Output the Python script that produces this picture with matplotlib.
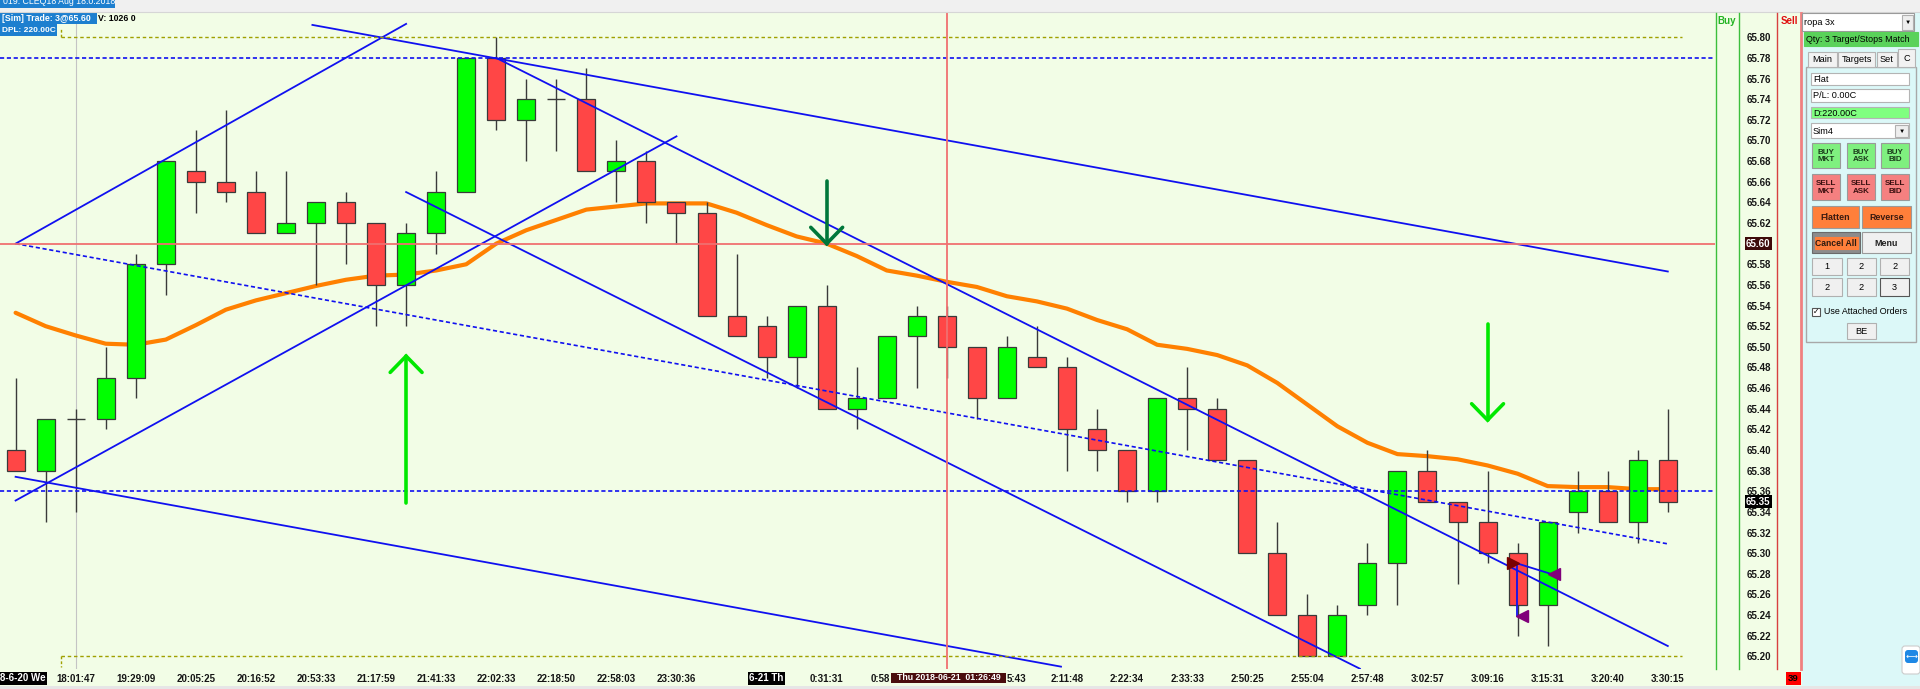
#!/usr/bin/env python3
"""
Recreate the CLEQ18 candlestick screenshot: bars, EMA, trend lines and order panel.
"""

import numpy as np
import matplotlib
matplotlib.use('Agg')
import matplotlib.pyplot as plt
from matplotlib.patches import Rectangle, FancyBboxPatch
from matplotlib.transforms import blended_transform_factory

W, H, DPI = 1920, 689, 100
BG = '#f2fde6'
PANEL = '#dcf8f8'
FONT = 'Liberation Sans'
plt.rcParams['font.family'] = ['Liberation Sans', 'DejaVu Sans']

# ---- bars (index 0 = leftmost bar) ----
opens = [65.40, 65.38, 65.43, 65.43, 65.47, 65.58, 65.67, 65.66, 65.65, 65.61,
         65.62, 65.64, 65.62, 65.56, 65.61, 65.65, 65.78, 65.72, 65.74, 65.74,
         65.67, 65.68, 65.64, 65.63, 65.53, 65.52, 65.49, 65.54, 65.44, 65.45,
         65.51, 65.53, 65.50, 65.45, 65.49, 65.48, 65.42, 65.40, 65.36, 65.45,
         65.44, 65.39, 65.30, 65.24, 65.20, 65.25, 65.29, 65.38, 65.35, 65.33,
         65.30, 65.25, 65.34, 65.36, 65.33, 65.39]
highs = [65.47, 65.43, 65.44, 65.50, 65.59, 65.68, 65.71, 65.73, 65.67, 65.67,
         65.64, 65.65, 65.62, 65.62, 65.67, 65.78, 65.80, 65.76, 65.76, 65.77,
         65.70, 65.69, 65.64, 65.64, 65.59, 65.53, 65.54, 65.56, 65.48, 65.51,
         65.54, 65.54, 65.50, 65.51, 65.52, 65.49, 65.44, 65.40, 65.45, 65.48,
         65.45, 65.39, 65.33, 65.26, 65.25, 65.31, 65.38, 65.40, 65.35, 65.38,
         65.31, 65.33, 65.38, 65.38, 65.40, 65.44]
lows = [65.38, 65.33, 65.34, 65.42, 65.45, 65.55, 65.63, 65.64, 65.61, 65.61,
        65.56, 65.58, 65.52, 65.52, 65.59, 65.65, 65.71, 65.68, 65.69, 65.67,
        65.64, 65.62, 65.60, 65.53, 65.51, 65.47, 65.46, 65.44, 65.42, 65.45,
        65.46, 65.47, 65.43, 65.45, 65.48, 65.38, 65.38, 65.35, 65.35, 65.40,
        65.39, 65.30, 65.24, 65.20, 65.20, 65.24, 65.25, 65.35, 65.27, 65.29,
        65.22, 65.21, 65.32, 65.33, 65.31, 65.34]
closes = [65.38, 65.43, 65.43, 65.47, 65.58, 65.68, 65.66, 65.65, 65.61, 65.62,
          65.64, 65.62, 65.56, 65.61, 65.65, 65.78, 65.72, 65.74, 65.74, 65.67,
          65.68, 65.64, 65.63, 65.53, 65.51, 65.49, 65.54, 65.44, 65.45, 65.51,
          65.53, 65.50, 65.45, 65.50, 65.48, 65.42, 65.40, 65.36, 65.45, 65.44,
          65.39, 65.30, 65.24, 65.20, 65.24, 65.29, 65.38, 65.35, 65.33, 65.30,
          65.25, 65.33, 65.36, 65.33, 65.39, 65.35]
ema = [65.533, 65.520, 65.511, 65.503, 65.502, 65.507, 65.521, 65.536, 65.545, 65.552,
       65.559, 65.565, 65.569, 65.570, 65.574, 65.580, 65.600, 65.613, 65.623, 65.633,
       65.636, 65.639, 65.639, 65.639, 65.630, 65.618, 65.607, 65.600, 65.588, 65.574,
       65.569, 65.563, 65.558, 65.549, 65.544, 65.537, 65.526, 65.517, 65.502, 65.498,
       65.492, 65.482, 65.465, 65.444, 65.423, 65.407, 65.396, 65.394, 65.391, 65.385,
       65.377, 65.365, 65.364, 65.364, 65.362, 65.362]

time_ticks = [2, 4, 6, 8, 10, 12, 14, 16, 18, 20, 22,
              27, 35, 37, 39, 41, 43, 45, 47, 49, 51, 53, 55]
time_labels = ['18:01:47', '19:29:09', '20:05:25', '20:16:52', '20:53:33', '21:17:59',
               '21:41:33', '22:02:33', '22:18:50', '22:58:03', '23:30:36',
               '0:31:31', '2:11:48', '2:22:34', '2:33:33', '2:50:25', '2:55:04',
               '2:57:48', '3:02:57', '3:09:16', '3:15:31', '3:20:40', '3:30:15']
# the two labels half hidden under the cursor time tag
hidden_left, hidden_right = '0:58', '5:43'
cursor_label = 'Thu 2018-06-21  01:26:49'
price_ticks = [65.20, 65.22, 65.24, 65.26, 65.28, 65.30, 65.32, 65.34, 65.36, 65.38,
               65.40, 65.42, 65.44, 65.46, 65.48, 65.50, 65.52, 65.54, 65.56, 65.58,
               65.60, 65.62, 65.64, 65.66, 65.68, 65.70, 65.72, 65.74, 65.76, 65.78, 65.80]

# drawn objects in bar index / price
trend_x0 = [0, 0, 9.88, 16.0, 13.0, 0]
trend_y0 = [65.600, 65.351, 65.812, 65.780, 65.650, 65.374]
trend_x1 = [13.0, 22.0, 55.0, 55.0, 44.75, 34.8]
trend_y1 = [65.813, 65.704, 65.573, 65.210, 65.188, 65.190]
dashed_x = [0, 55]
dashed_y = [65.600, 65.309]
blue_levels = [65.78, 65.36]
box_levels = [65.80, 65.20]
box_span = [1.51, 55.47]
red_level = 65.60
last_price = 65.35
cursor_bar = 31
session_bar = 2
date_bars = [0.25, 25]
date_labels = ['8-6-20 We', '6-21 Th']

arrow_bars = [27, 13, 49]
arrow_tails = [65.661, 65.349, 65.522]
arrow_tips = [65.600, 65.491, 65.429]
arrow_colors = ['#00773a', '#00e800', '#00e800']

trade_x = [49.85, 51.2, 50.15]
trade_y = [65.290, 65.280, 65.239]
trade_marks = ['>', '<', '<']
trade_colors = ['#7a0000', '#80007a', '#80007a']

# pixel layout of the screenshot
BAR0_PX, BAR_PX = 15.6, 30.04        # x of bar 0, bar spacing
P80_PX, PX_PER_UNIT = 37.3, 1031.7   # y of 65.80, pixels per 1.00
PLOT_L, PLOT_R, PLOT_T, PLOT_B = 0, 1715, 12.7, 669


def draw_candles(ax):
    x = np.arange(len(opens))
    o, c = np.array(opens), np.array(closes)
    up, down, flat = c > o, c < o, c == o
    ax.vlines(x, lows, highs, color='#3a3a3a', lw=1.0, zorder=3)
    ax.bar(x[up], (c - o)[up], bottom=o[up], width=0.6, color='#00ff00',
           edgecolor='#3a3a3a', lw=0.9, zorder=4)
    ax.bar(x[down], (o - c)[down], bottom=c[down], width=0.6, color='#ff4646',
           edgecolor='#3a3a3a', lw=0.9, zorder=4)
    ax.hlines(o[flat], x[flat] - 0.3, x[flat] + 0.3, color='#3a3a3a', lw=1.0, zorder=4)


def draw_overlays(ax):
    ax.plot(np.arange(len(ema)), ema, color='#ff8000', lw=3.0, zorder=2,
            solid_capstyle='round', solid_joinstyle='round')
    ax.axvline(session_bar, color='#c4c4c4', lw=0.8, zorder=1)

    for xa, ya, xb, yb in zip(trend_x0, trend_y0, trend_x1, trend_y1):
        ax.plot([xa, xb], [ya, yb], color='#1010f0', lw=1.3, zorder=5)
    ax.plot(dashed_x, dashed_y, color='#1010f0', lw=1.2, dashes=(2.5, 1.6), zorder=5)
    for lvl in blue_levels:
        ax.axhline(lvl, color='#1010f0', lw=1.2, dashes=(2.5, 1.6), zorder=5)
    for lvl in box_levels:
        ax.plot(box_span, [lvl, lvl], color='#a0a000', lw=1.0, dashes=(2.5, 2), zorder=5)
    # small bracket ticks on the left end of the box lines
    ax.plot([box_span[0]] * 2, [box_levels[0], box_levels[0] + 0.009],
            color='#a0a000', lw=1.0, dashes=(2, 1.5), zorder=5)
    ax.plot([box_span[0]] * 2, [box_levels[1], box_levels[1] - 0.010],
            color='#a0a000', lw=1.0, dashes=(2, 1.5), zorder=5)

    ax.axhline(red_level, color='#f07070', lw=1.3, zorder=6)
    ax.axvline(cursor_bar, color='#f07070', lw=1.3, zorder=6)

    arm_x, arm_y = 0.53, 0.0158
    for xb, tail, tip, col in zip(arrow_bars, arrow_tails, arrow_tips, arrow_colors):
        back = arm_y if tip < tail else -arm_y
        ax.plot([xb, xb], [tail, tip], color=col, lw=2.6, zorder=7, solid_capstyle='round')
        ax.plot([xb - arm_x, xb, xb + arm_x], [tip + back, tip, tip + back], color=col,
                lw=2.6, zorder=7, solid_capstyle='round', solid_joinstyle='miter')

    # trade marks and links
    ax.plot([trade_x[0] + 0.14, trade_x[1] - 0.1], [trade_y[0], trade_y[1]],
            color='#1010f0', lw=1.3, zorder=8)
    ax.plot([trade_x[0] + 0.14, trade_x[0] + 0.14], [trade_y[0], trade_y[2]],
            color='#1010f0', lw=1.3, zorder=8)
    for xm, ym, mk, col in zip(trade_x, trade_y, trade_marks, trade_colors):
        ax.plot(xm, ym, marker=mk, color=col, ms=9, mec=col, zorder=9, ls='none')


def button(ui, x0, y0, x1, y1, face, label='', size=6.2, weight='normal',
           color='black', edge='#9a9a9a', ha='center', lw=0.8):
    ui.add_patch(Rectangle((x0, y0), x1 - x0, y1 - y0, facecolor=face,
                           edgecolor=edge, lw=lw, zorder=2))
    if label:
        tx = (x0 + x1) / 2 if ha == 'center' else x0 + 2
        ui.text(tx, (y0 + y1) / 2 + 0.5, label, ha=ha, va='center', fontsize=size,
                fontweight=weight, color=color, linespacing=1.05, zorder=3)


def draw_ui(ui):
    ui.set_xlim(0, W)
    ui.set_ylim(H, 0)
    ui.axis('off')

    # top strip and tab
    ui.add_patch(Rectangle((0, 0), W, PLOT_T, facecolor='#f0f0f0', edgecolor='none'))
    ui.plot([0, W], [PLOT_T - 0.5, PLOT_T - 0.5], color='#d6d6d6', lw=0.8)
    ui.add_patch(Rectangle((0, 0), 115, 8.3, facecolor='#1d7fcf', edgecolor='none'))
    ui.text(3, 2.0, '019: CLEQ18 Aug 18.0.2018', color='white', fontsize=6.3,
            va='center', ha='left')

    # header boxes
    ui.add_patch(Rectangle((0, PLOT_T), 96.5, 11.3, facecolor='#1d7fcf', edgecolor='none'))
    ui.text(1.5, 18.6, '[Sim] Trade: 3@65.60', color='white', fontsize=6.3,
            fontweight='bold', va='center')
    ui.text(98, 18.6, 'V: 1026 0', color='black', fontsize=6.3,
            fontweight='bold', va='center')
    ui.add_patch(Rectangle((0, 24.0), 56.7, 11.6, facecolor='#1d7fcf', edgecolor='none'))
    ui.text(1.5, 30.0, 'DPL: 220.00C', color='white', fontsize=6.0,
            fontweight='bold', va='center')

    # buy / price / sell columns
    for xv, col, lw in [(1715.7, '#3cbf3c', 1.0), (1738.7, '#3cbf3c', 1.0),
                        (1777.3, '#d84040', 1.0), (1800.7, '#f08080', 2.0)]:
        ui.plot([xv, xv], [PLOT_T, PLOT_B], color=col, lw=lw)
    ui.text(1726.5, 20.5, 'Buy', color='#22b322', fontsize=7, fontweight='bold',
            ha='center', va='center')
    ui.text(1789, 20.5, 'Sell', color='#e01010', fontsize=7, fontweight='bold',
            ha='center', va='center')
    ui.add_patch(Rectangle((1785.5, 672), 15, 13, facecolor='#ff0000', edgecolor='none'))
    ui.text(1793, 678.8, '39', color='black', fontsize=6.8, fontweight='bold',
            ha='center', va='center')

    # bottom strip
    ui.add_patch(Rectangle((0, 686), W, 3, facecolor='#e6e6e6', edgecolor='none'))

    # cursor time tag on the time scale, with the labels it half hides
    ui.text(890, 678.5, hidden_left, color='#151515', fontsize=7, fontweight='bold',
            ha='right', va='center')
    ui.text(1007, 678.5, hidden_right, color='#151515', fontsize=7, fontweight='bold',
            ha='left', va='center')
    ui.add_patch(Rectangle((891, 672.5), 115, 10.5, facecolor='#4a0d0d', edgecolor='none', zorder=4))
    ui.text(948.5, 678, cursor_label, color='white', fontsize=6.3,
            fontweight='bold', ha='center', va='center', zorder=5)

    # order panel
    ui.add_patch(Rectangle((1802, PLOT_T), W - 1802, 686 - PLOT_T,
                           facecolor=PANEL, edgecolor='none'))
    button(ui, 1802.3, 13.3, 1914, 30.7, 'white', 'ropa 3x', size=6.6, ha='left')
    button(ui, 1902, 15, 1913, 29.5, '#eeeeee', '▼', size=4.5, edge='#b0b0b0')
    button(ui, 1804.3, 32.3, 1918.3, 45.7, '#5ad25a', 'Qty: 3 Target/Stops Match',
           size=6.4, ha='left', edge='#5ad25a')
    ui.add_patch(Rectangle((1805.7, 66.7), 110.3, 275.3, facecolor=PANEL,
                           edgecolor='#a8a8a8', lw=1.0))
    for x0, x1, lab in [(1808.3, 1836.7, 'Main'), (1838.3, 1875, 'Targets'),
                        (1876.7, 1897, 'Set'), (1898.3, 1915, 'C')]:
        top = 49.0 if lab == 'C' else 51.7
        button(ui, x0, top, x1, 66.7, '#f2f2f2', lab, size=6.6, edge='#b4b4b4')
    button(ui, 1811, 72.7, 1909.3, 85, 'white', 'Flat', size=6.6, ha='left', edge='#b4b4b4')
    button(ui, 1811, 89.3, 1909.3, 101.7, 'white', 'P/L: 0.00C', size=6.6, ha='left', edge='#b4b4b4')
    button(ui, 1811, 106.7, 1909.3, 118.3, '#80ff80', 'D:220.00C', size=6.6, ha='left', edge='#b4b4b4')
    button(ui, 1811, 123.3, 1909.3, 138.3, 'white', 'Sim4', size=6.6, ha='left', edge='#b4b4b4')
    button(ui, 1895, 125, 1908, 137, '#eeeeee', '▼', size=4.5, edge='#b0b0b0')

    cols = [(1812.3, 1840), (1846.7, 1875), (1880.7, 1909.3)]
    for (x0, x1), lab in zip(cols, ['BUY\nMKT', 'BUY\nASK', 'BUY\nBID']):
        button(ui, x0, 142.7, x1, 168.3, '#7ff07f', lab, size=5.8, weight='bold', color='#1a3a1a')
    for (x0, x1), lab in zip(cols, ['SELL\nMKT', 'SELL\nASK', 'SELL\nBID']):
        button(ui, x0, 174, x1, 200, '#f58080', lab, size=5.8, weight='bold', color='#3a1010')
    button(ui, 1812, 206, 1859.3, 228.3, '#ff7f3a', 'Flatten', size=6.4, weight='bold', color='#3a1a10')
    button(ui, 1862.3, 206, 1910.7, 228.3, '#ff7f3a', 'Reverse', size=6.4, weight='bold', color='#3a1a10')
    button(ui, 1812, 232, 1860, 253, '#8c8c8c', edge='#6a6a6a')
    button(ui, 1814.5, 236.5, 1857.5, 249, '#ff7f3a', 'Cancel All', size=6.2,
           weight='bold', color='#2a1a10', edge='#ff7f3a')
    button(ui, 1862.3, 232, 1910.7, 253, '#f0f0f0', 'Menu', size=6.4, weight='bold', color='#222222')
    nums = ['1', '2', '2', '2', '2', '3']
    for k, lab in enumerate(nums):
        x0, x1 = [(1812.3, 1841.7), (1846.7, 1876), (1880, 1909.3)][k % 3]
        y0, y1 = [(257.7, 275), (278.3, 296)][k // 3]
        edge = '#555555' if k == 5 else '#b0b0b0'
        button(ui, x0, y0, x1, y1, '#f0f0f0', lab, size=6.6, edge=edge)
    button(ui, 1811.7, 307.5, 1819.5, 315.5, 'white', '✓', size=5.5, edge='#555555')
    ui.text(1824, 312, 'Use Attached Orders', fontsize=6.4, va='center', ha='left')
    button(ui, 1846.7, 322.7, 1876, 339.3, '#f0f0f0', 'BE', size=6.6, edge='#b0b0b0')

    # remote-control badge in the corner
    ui.add_patch(FancyBboxPatch((1902, 646), 18, 28, boxstyle='round,pad=0,rounding_size=3',
                                facecolor='white', edgecolor='#cccccc', lw=0.8))
    ui.add_patch(FancyBboxPatch((1905, 650), 13, 13, boxstyle='round,pad=0,rounding_size=3',
                                facecolor='#1e88e5', edgecolor='none'))
    ui.text(1911.5, 656.5, '⟷', color='white', fontsize=6, ha='center', va='center',
            family='DejaVu Sans')


def main():
    fig = plt.figure(figsize=(W / DPI, H / DPI), dpi=DPI, facecolor=BG)
    ax = fig.add_axes([PLOT_L / W, (H - PLOT_B) / H, (PLOT_R - PLOT_L) / W,
                       (PLOT_B - PLOT_T) / H])
    ax.set_facecolor(BG)
    for sp in ax.spines.values():
        sp.set_visible(False)

    ax.set_xlim((PLOT_L - BAR0_PX) / BAR_PX, (PLOT_R - BAR0_PX) / BAR_PX)
    ax.set_ylim(65.80 - (PLOT_B - P80_PX) / PX_PER_UNIT,
                65.80 + (P80_PX - PLOT_T) / PX_PER_UNIT)

    draw_candles(ax)
    draw_overlays(ax)

    ax.set_xticks(time_ticks)
    ax.set_xticklabels(time_labels, fontsize=7, fontweight='bold', color='#151515')
    ax.tick_params(axis='x', length=0, pad=3.4)
    ax.yaxis.tick_right()
    ax.set_yticks(price_ticks)
    ax.set_yticklabels([f'{p:.2f}' for p in price_ticks], fontsize=7,
                       fontweight='bold', color='#151515')
    ax.tick_params(axis='y', length=0, pad=(1746.7 - PLOT_R) * 72 / DPI)

    # price tags on the scale
    tag = blended_transform_factory(ax.transAxes, ax.transData)
    tag_x = (1746.0 - PLOT_L) / (PLOT_R - PLOT_L)
    ax.text(tag_x, red_level, f'{red_level:.2f}', transform=tag, color='white',
            fontsize=7, fontweight='bold', va='center', ha='left',
            clip_on=False, zorder=10,
            bbox=dict(boxstyle='square,pad=0.12', facecolor='#3e0a0a', edgecolor='none'))
    ax.text(tag_x, last_price, f'{last_price:.2f}', transform=tag, color='white',
            fontsize=7, fontweight='bold', va='center', ha='left',
            clip_on=False, zorder=10,
            bbox=dict(boxstyle='square,pad=0.12', facecolor='black', edgecolor='none'))

    # date markers on the time scale
    date_tr = blended_transform_factory(ax.transData, ax.transAxes)
    date_y = -(678.3 - PLOT_B) / (PLOT_B - PLOT_T)
    for xb, lab in zip(date_bars, date_labels):
        ax.text(xb, date_y, lab, transform=date_tr, color='white', fontsize=7,
                fontweight='bold', ha='center', va='center',
                clip_on=False, zorder=10,
                bbox=dict(boxstyle='square,pad=0.15', facecolor='black', edgecolor='none'))

    ui = fig.add_axes([0, 0, 1, 1], zorder=10)
    ui.patch.set_alpha(0)
    draw_ui(ui)

    fig.savefig('out.png', dpi=DPI, facecolor=BG)
    print('Saved out.png')


if __name__ == '__main__':
    main()
